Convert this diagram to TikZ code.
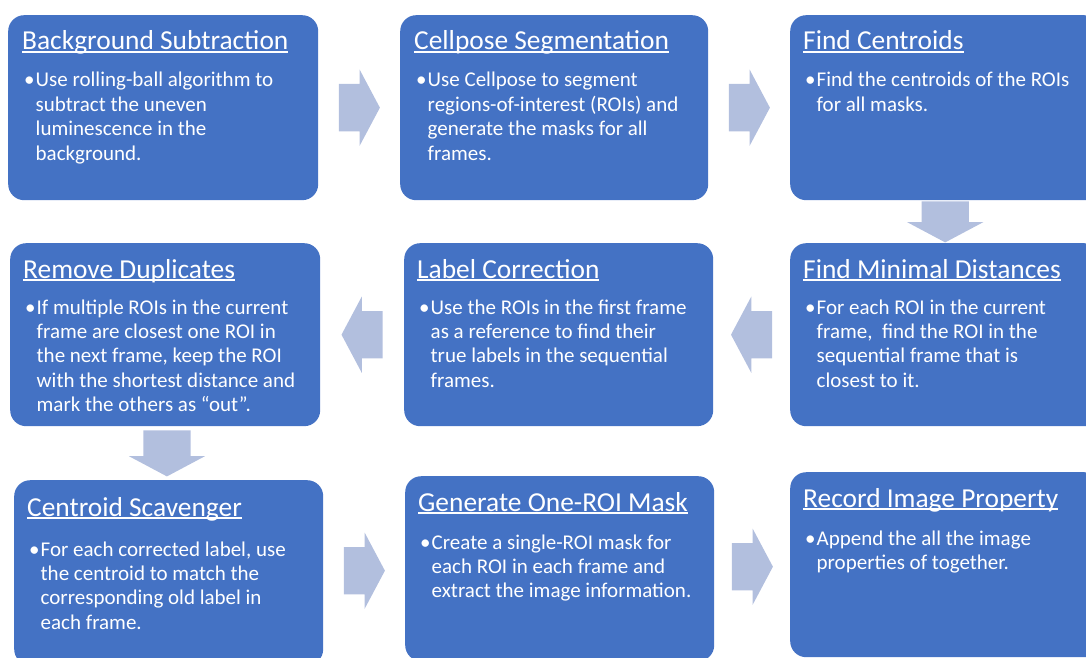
\documentclass[tikz,border=0pt]{standalone}
\usepackage{fontspec}
\setmainfont{Carlito}
\usetikzlibrary{shapes.arrows,calc}

\definecolor{boxblue}{HTML}{4472C4}
\definecolor{arrowblue}{RGB}{178,191,222}

% title with a flat underline close to the baseline
\newcommand{\headline}[1]{\setbox0\hbox{#1}\rlap{\rule[-2.6pt]{\wd0}{1.6pt}}\box0}
% one bullet, lines broken by hand
\newcommand{\bulletlines}[1]{\begin{tabular}[t]{@{}l@{}l@{}}\makebox[11.5pt][l]{\textbullet} & #1\end{tabular}}

\begin{document}
\begin{tikzpicture}[x=1pt, y=1pt,
    stepbox/.style={fill=boxblue, rounded corners=16, anchor=north west,
      minimum width=310, minimum height=185, inner sep=0},
    steptitle/.style={anchor=base west, inner sep=0, text=white,
      font=\fontsize{27.4}{33}\selectfont},
    stepbody/.style={anchor=base west, inner sep=0, text=white,
      font=\fontsize{21}{24.4}\selectfont},
    blockarrow/.style={single arrow, fill=arrowblue, inner xsep=0, inner ysep=23.5,
      minimum height=41, single arrow head extend=14.5, anchor=tail,
      single arrow tip angle=124, single arrow head indent=0}]
  \clip (0,0) rectangle (1086,-658);

  % the nine steps
  \node[stepbox] (b1) at (8,-15) {};
  \node[stepbox, minimum width=308] (b2) at (400,-15) {};
  \node[stepbox] (b3) at (790,-15) {};
  \node[stepbox, minimum height=183] (b4) at (10,-243) {};
  \node[stepbox, minimum height=183, minimum width=309] (b5) at (404,-243) {};
  \node[stepbox, minimum height=183] (b6) at (790,-243) {};
  \node[stepbox, minimum width=309] (b7) at (14,-480) {};
  \node[stepbox, minimum width=309] (b8) at (405,-476) {};
  \node[stepbox] (b9) at (790,-472) {};

  % titles
  \node[steptitle] (t1) at ([shift={(14,-35)}]b1.north west) {\headline{Background Subtraction}};
  \node[steptitle] (t2) at ([shift={(14,-35)}]b2.north west) {\headline{Cellpose Segmentation}};
  \node[steptitle] (t3) at ([shift={(13,-35)}]b3.north west) {\headline{Find Centroids}};
  \node[steptitle] (t4) at ([shift={(13,-35)}]b4.north west) {\headline{Remove Duplicates}};
  \node[steptitle] (t5) at ([shift={(13,-35)}]b5.north west) {\headline{Label Correction}};
  \node[steptitle] (t6) at ([shift={(13,-35)}]b6.north west) {\headline{Find Minimal Distances}};
  \node[steptitle] (t7) at ([shift={(13,-36)}]b7.north west) {\headline{Centroid Scavenger}};
  \node[steptitle] (t8) at ([shift={(13,-35)}]b8.north west) {\headline{Generate One-ROI Mask}};
  \node[steptitle] (t9) at ([shift={(13,-35)}]b9.north west) {\headline{Record Image Property}};

  % bullet text
  \node[stepbody] (d1) at ([shift={(16,-72)}]b1.north west) {\bulletlines{Use rolling-ball algorithm to\\ & subtract the uneven\\ & luminescence in the\\ & background.}};
  \node[stepbody] (d2) at ([shift={(16,-72)}]b2.north west) {\bulletlines{Use Cellpose to segment\\ & regions-of-interest (ROIs) and\\ & generate the masks for all\\ & frames.}};
  \node[stepbody] (d3) at ([shift={(15,-72)}]b3.north west) {\bulletlines{Find the centroids of the ROIs\\ & for all masks.}};
  \node[stepbody] (d4) at ([shift={(15,-71)}]b4.north west) {\bulletlines{If multiple ROIs in the current\\ & frame are closest one ROI in\\ & the next frame, keep the ROI\\ & with the shortest distance and\\ & mark the others as “out”.}};
  \node[stepbody] (d5) at ([shift={(15,-71)}]b5.north west) {\bulletlines{Use the ROIs in the first frame\\ & as a reference to find their\\ & true labels in the sequential\\ & frames.}};
  \node[stepbody] (d6) at ([shift={(15,-71)}]b6.north west) {\bulletlines{For each ROI in the current\\ & frame,\ \ find the ROI in the\\ & sequential frame that is\\ & closest to it.}};
  \node[stepbody] (d7) at ([shift={(15,-76)}]b7.north west) {\bulletlines{For each corrected label, use\\ & the centroid to match the\\ & corresponding old label in\\ & each frame.}};
  \node[stepbody] (d8) at ([shift={(15,-73)}]b8.north west) {\bulletlines{Create a single-ROI mask for\\ & each ROI in each frame and\\ & extract the image information.}};
  \node[stepbody] (d9) at ([shift={(15,-73)}]b9.north west) {\bulletlines{Append the all the image\\ & properties of together.}};

  % block arrows between the steps, tail set back half a length from the gap centre
  \node[blockarrow] (a12) at ($(b1.east)!.5!(b2.west)+(-20.5,0)$) {};
  \node[blockarrow] (a23) at ($(b2.east)!.5!(b3.west)+(-20.5,0)$) {};
  \node[blockarrow, rotate=-90] (a36) at ($(b3.south)!.5!(b6.north)+(0,20.5)$) {};
  \node[blockarrow, rotate=180] (a65) at ($(b6.west)!.5!(b5.east)+(20.5,0)$) {};
  \node[blockarrow, rotate=180] (a54) at ($(b5.west)!.5!(b4.east)+(20.5,0)$) {};
  \node[blockarrow, rotate=-90, minimum height=46] (a47) at ($(b4.south)!.5!(b7.north)+(0,23)$) {};
  \node[blockarrow] (a78) at ($(b7.east)!.5!(b8.west)+(-20.5,0)$) {};
  \node[blockarrow] (a89) at ($(b8.east)!.5!(b9.west)+(-20.5,0)$) {};
\end{tikzpicture}
\end{document}
